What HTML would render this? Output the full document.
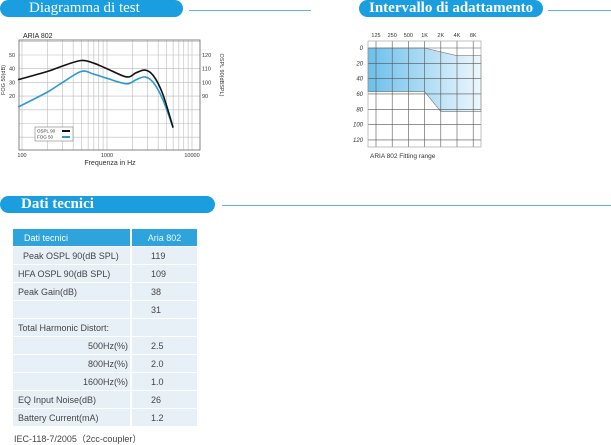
<!DOCTYPE html>
<html><head><meta charset="utf-8">
<style>
body{margin:0;width:611px;height:445px;background:#fff;position:relative;overflow:hidden;font-family:"Liberation Sans",sans-serif;}
.ban{position:absolute;background:#1a9ee0;border-radius:9px;color:#fff;font-family:"Liberation Serif",serif;font-size:15px;line-height:17px;height:17px;}
.ln{position:absolute;height:1px;background:#5db5e4;}
table{border-collapse:separate;border-spacing:0 1px;}
td{font-size:9px;color:#444;height:17px;padding:0;background:#e8f0f7;}
</style></head><body>
<div class="ban" style="left:0;top:0;width:183px;"><span style="position:absolute;left:29px">Diagramma di test</span></div>
<div class="ln" style="left:189px;top:10px;width:122px"></div>
<div class="ban" style="left:359px;top:0;width:184px;font-weight:bold"><span style="position:absolute;left:10px">Intervallo di adattamento</span></div>
<div class="ln" style="left:548px;top:10px;width:63px"></div>
<div class="ban" style="left:0;top:196px;width:215px;font-weight:bold"><span style="position:absolute;left:21px">Dati tecnici</span></div>
<div class="ln" style="left:222px;top:205px;width:389px"></div>

<svg id="c1" style="position:absolute;left:0;top:0" width="230" height="175"></svg>
<svg id="c2" style="position:absolute;top:0;left:330px" width="281" height="175"></svg>

<table style="position:absolute;left:13px;top:228px;width:184px">
<tr><td style="background:#2ea3dc;color:#fff;padding-left:11px;width:106px">Dati tecnici</td><td style="background:#2ea3dc;color:#eaf6ff;text-align:center;border-left:2px solid #fff">Aria 802</td></tr>
<tr><td style="padding-left:10px">Peak OSPL 90(dB SPL)</td><td style="border-left:2px solid #fff;padding-left:19px">119</td></tr>
<tr><td style="padding-left:5px">HFA OSPL 90(dB SPL)</td><td style="border-left:2px solid #fff;padding-left:19px">109</td></tr>
<tr><td style="padding-left:5px">Peak Gain(dB)</td><td style="border-left:2px solid #fff;padding-left:19px">38</td></tr>
<tr><td></td><td style="border-left:2px solid #fff;padding-left:19px">31</td></tr>
<tr><td style="padding-left:5px">Total Harmonic Distort:</td><td style="border-left:2px solid #fff"></td></tr>
<tr><td style="text-align:right;padding-right:2px">500Hz(%)</td><td style="border-left:2px solid #fff;padding-left:19px">2.5</td></tr>
<tr><td style="text-align:right;padding-right:2px">800Hz(%)</td><td style="border-left:2px solid #fff;padding-left:19px">2.0</td></tr>
<tr><td style="text-align:right;padding-right:2px">1600Hz(%)</td><td style="border-left:2px solid #fff;padding-left:19px">1.0</td></tr>
<tr><td style="padding-left:5px">EQ Input Noise(dB)</td><td style="border-left:2px solid #fff;padding-left:19px">26</td></tr>
<tr><td style="padding-left:5px">Battery Current(mA)</td><td style="border-left:2px solid #fff;padding-left:19px">1.2</td></tr>
</table>
<div style="position:absolute;left:14px;top:432px;font-size:9px;color:#444">IEC-118-7/2005（2cc-coupler）</div>

<script>
const freqs=[90,200,300,500,700,1000,1700,2200,2800,3500,4500,6000];
const osplVals=[32,38,42,46,44,40,34,37,39,35,22,-3];
const fogVals=[12,23,30,38,36,33,29,32,34,30,18,-3];
const leftTicks=[50,40,30,20];
const rightTicks=["120","110","100","90"];
const xTicks=[100,1000,10000];
const NS="http://www.w3.org/2000/svg";
function mk(p,t,a){const e=document.createElementNS(NS,t);for(const k in a)e.setAttribute(k,a[k]);p.appendChild(e);return e;}
const s1=document.getElementById('c1');
const X=f=>22+85*Math.log10(f/100);
const Y=v=>55+(50-v)*1.37;
const L=19,R=200,T=40,B=150;
for(let d=100;d<=10000;d*=10)for(let m=1;m<10;m++){const f=d*m;const x=X(f);if(x<L||x>R)continue;
 const g=mk(s1,'line',{x1:x,x2:x,y1:T,y2:B,stroke:'#bbb','stroke-width':0.6});
 }
for(let v=60;v>=-20;v-=10){const y=Y(v);if(y<T||y>B)continue;
 const g=mk(s1,'line',{x1:L,x2:R,y1:y,y2:y,stroke:'#bbb','stroke-width':0.6});
 }
const bx=mk(s1,'rect',{x:L,y:T,width:R-L,height:B-T,fill:'none',stroke:'#666','stroke-width':0.8});

leftTicks.forEach(v=>{const t=mk(s1,'text',{x:9,y:Y(v)+2,'font-size':5.5,fill:'#333'});t.textContent=v;
 });
rightTicks.forEach((v,i)=>{const t=mk(s1,'text',{x:202,y:Y(leftTicks[i])+2,'font-size':5.5,fill:'#333'});t.textContent=v;
 });
xTicks.forEach(f=>{const t=mk(s1,'text',{x:X(f),y:157,'font-size':5.5,fill:'#333','text-anchor':'middle'});t.textContent=f;
 });
let t=mk(s1,'text',{x:110,y:165,'font-size':7,fill:'#333','text-anchor':'middle'});t.textContent='Frequenza in Hz';

t=mk(s1,'text',{x:23,y:38,'font-size':7,fill:'#222'});t.textContent='ARIA 802';

t=mk(s1,'text',{x:0,y:0,'font-size':5.5,fill:'#333','text-anchor':'middle',transform:'translate(5,80) rotate(-90)'});t.textContent='FOG 50(dB)';

t=mk(s1,'text',{x:0,y:0,'font-size':5.5,fill:'#333','text-anchor':'middle',transform:'translate(220,75) rotate(90)'});t.textContent='OSPL 90(dBSPL)';

function path(vals){
 const P=vals.map((v,i)=>[X(freqs[i]),Y(v)]);
 let d='M'+P[0][0].toFixed(1)+','+P[0][1].toFixed(1);
 for(let i=0;i<P.length-1;i++){
  const p0=P[i-1]||P[i],p1=P[i],p2=P[i+1],p3=P[i+2]||P[i+1];
  const c1=[p1[0]+(p2[0]-p0[0])/6,p1[1]+(p2[1]-p0[1])/6];
  const c2=[p2[0]-(p3[0]-p1[0])/6,p2[1]-(p3[1]-p1[1])/6];
  d+=' C'+c1.map(n=>n.toFixed(1)).join(',')+' '+c2.map(n=>n.toFixed(1)).join(',')+' '+p2.map(n=>n.toFixed(1)).join(',');
 }
 return d;}
let p=mk(s1,'path',{d:path(fogVals),fill:'none',stroke:'#2a9ad6','stroke-width':1.6,'stroke-linejoin':'round'});

p=mk(s1,'path',{d:path(osplVals),fill:'none',stroke:'#111','stroke-width':1.6,'stroke-linejoin':'round'});

const lg=mk(s1,'rect',{x:35,y:127,width:38,height:14,fill:'#fff',stroke:'#666','stroke-width':0.5});

[['OSPL 90','#111',133],['FOG 50','#2a9ad6',139]].forEach(a=>{
 const tt=mk(s1,'text',{x:37,y:a[2]-0.5,'font-size':4.5,fill:'#333'});tt.textContent=a[0];
 
 const l=mk(s1,'line',{x1:62,x2:70,y1:a[2]-2,y2:a[2]-2,stroke:a[1],'stroke-width':2});
 });

const bands=["125","250","500","1K","2K","4K","8K"];
const upperFreq=[0,3,5,6];const upperVals=[0,0,10,10];
const lowerFreq=[0,3,4,6];const lowerVals=[57,57,83,83];
const yTicks=[0,20,40,60,80,100,120];
const s2=document.getElementById('c2');
const BX=i=>46+i*16.2;
const BY=v=>48+v*0.766;
const L2=38,R2=151,T2=41,B2=147;
const ex=i=>i<=0?L2:(i>=6?R2:BX(i));
const defs=mk(s2,'defs',{});
const gr=mk(defs,'linearGradient',{id:'gf',x1:0,x2:1,y1:0,y2:0});
mk(gr,'stop',{offset:0,'stop-color':'#6cc0ea'});mk(gr,'stop',{offset:1,'stop-color':'#eef7fd'});
let d=upperFreq.map((f,i)=>(i?'L':'M')+ex(f)+','+BY(upperVals[i])).join(' ');
for(let i=lowerFreq.length-1;i>=0;i--)d+=' L'+ex(lowerFreq[i])+','+BY(lowerVals[i]);
p=mk(s2,'path',{d:d+'Z',fill:'url(#gf)',stroke:'#777','stroke-width':0.6});

bands.forEach((b,i)=>{const x=BX(i);
 const l=mk(s2,'line',{x1:x,x2:x,y1:T2,y2:B2,stroke:'#555','stroke-width':0.6});
 
 const tt=mk(s2,'text',{x:x,y:37,'font-size':5.5,fill:'#333','text-anchor':'middle'});tt.textContent=b;
 });
yTicks.forEach(v=>{const y=BY(v);
 const l=mk(s2,'line',{x1:L2,x2:R2,y1:y,y2:y,stroke:'#555','stroke-width':0.6});
 
 const tt=mk(s2,'text',{x:33,y:y+2,'font-size':6,fill:'#333','text-anchor':'end','font-style':'italic'});tt.textContent=v;
 });
const f2=mk(s2,'rect',{x:L2,y:T2,width:R2-L2,height:B2-T2,fill:'none',stroke:'#999','stroke-width':0.6});

t=mk(s2,'text',{x:40,y:158,'font-size':6.5,fill:'#333'});t.textContent='ARIA 802 Fitting range';

</script>
</body></html>
